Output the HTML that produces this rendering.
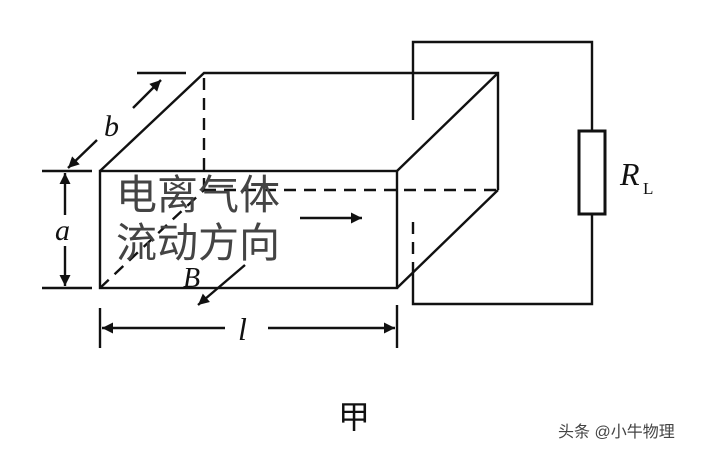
<!DOCTYPE html>
<html><head><meta charset="utf-8"><style>
html,body{margin:0;padding:0;background:#fff;width:701px;height:453px;overflow:hidden}
</style></head><body>
<svg width="701" height="453" viewBox="0 0 701 453" xmlns="http://www.w3.org/2000/svg">
<defs>
<marker id="ah" viewBox="0 0 10 10" refX="10" refY="5" markerWidth="18" markerHeight="11" markerUnits="userSpaceOnUse" orient="auto-start-reverse">
<path d="M0,0 L10,5 L0,10 z" fill="#111"/></marker>
</defs>
<g stroke="#111" stroke-width="2.4" fill="none">
<rect x="100" y="171" width="297" height="117"/>
<polyline points="100,171 204,73 498,73 498,190"/>
<line x1="397" y1="171" x2="498" y2="73"/>
<line x1="397" y1="288" x2="498" y2="190"/>
<g stroke-dasharray="12,8">
<line x1="204" y1="78" x2="204" y2="190"/>
<line x1="204" y1="190" x2="498" y2="190"/>
<line x1="100" y1="288" x2="204" y2="190"/>
<line x1="413" y1="222" x2="413" y2="272"/>
</g>
<polyline points="413,120 413,42 592,42 592,131"/>
<polyline points="592,214 592,304 413,304 413,272"/>
<rect x="579" y="131" width="26" height="83" stroke-width="3"/>
<line x1="42" y1="171" x2="92" y2="171"/>
<line x1="42" y1="288" x2="92" y2="288"/>
<line x1="65" y1="173" x2="65" y2="215" marker-start="url(#ah)"/>
<line x1="65" y1="246" x2="65" y2="286" marker-end="url(#ah)"/>
<line x1="137" y1="73" x2="186" y2="73"/>
<line x1="68" y1="168" x2="97" y2="140" marker-start="url(#ah)"/>
<line x1="133" y1="108" x2="161" y2="80" marker-end="url(#ah)"/>
<line x1="100" y1="308" x2="100" y2="348"/>
<line x1="397" y1="305" x2="397" y2="348"/>
<line x1="102" y1="328" x2="225" y2="328" marker-start="url(#ah)"/>
<line x1="268" y1="328" x2="395" y2="328" marker-end="url(#ah)"/>
<line x1="300" y1="218" x2="362" y2="218" marker-end="url(#ah)"/>
<line x1="245" y1="265" x2="198" y2="305" marker-end="url(#ah)"/>
</g>
<g font-family="Liberation Serif, serif" font-style="italic" fill="#111">
<text x="55" y="240" font-size="30">a</text>
<text x="104" y="136" font-size="30">b</text>
<text x="238" y="340" font-size="32">l</text>
<text x="183" y="287" font-size="28">B</text>
<text x="620" y="185" font-size="32">R</text>
</g>
<text x="643" y="194" font-family="Liberation Serif, serif" font-size="17" fill="#111">L</text>
<g font-family="Liberation Sans, 'Noto Sans CJK SC', sans-serif" font-size="41" fill="#444">
<text x="116" y="209">电离气体</text>
<text x="116" y="257">流动方向</text>
</g>
<text x="338" y="428" font-family="Liberation Sans, 'Noto Sans CJK SC', sans-serif" font-size="32" fill="#111">甲</text>
<text x="558" y="437" font-family="Liberation Sans, 'Noto Sans CJK SC', sans-serif" font-size="16" fill="#444">头条 @小牛物理</text>
</svg>
</body></html>
